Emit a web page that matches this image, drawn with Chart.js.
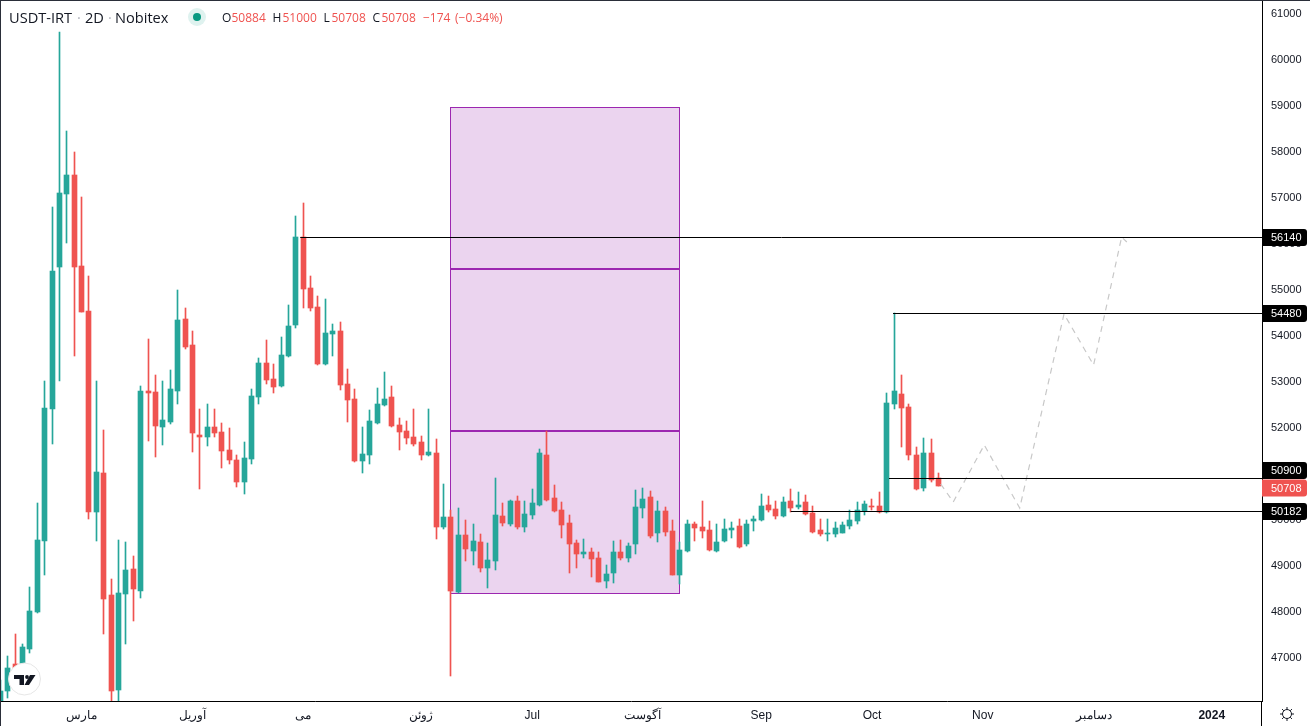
<!DOCTYPE html>
<html>
<head>
<meta charset="utf-8">
<style>html,body{margin:0;padding:0;background:#fff;overflow:hidden}#wrap{width:1310px;height:726px;position:relative}</style>
<script src="https://cdn.jsdelivr.net/npm/chart.js@4"></script>
</head>
<body>
<div id="wrap"><canvas id="c" width="1310" height="726"></canvas></div>
<script>
const opens=[46000,46261,46848,46826,47174,47979,49522,52391,55479,57066,
57479,55500,54522,50152,51000,48348,46283,48370,48913,48435,
52783,52761,52000,52109,52783,54348,53783,51826,51783,52000,
51891,51500,51283,50804,51304,52652,53391,53044,52891,53544,
54217,56130,55022,54609,53370,54022,54087,52935,52609,51261,
51391,52087,52478,52652,52044,51913,51783,51674,51391,51435,
49826,50044,48413,49652,49304,49500,48935,49087,50065,49891,
50391,49826,50087,50304,51391,50457,50196,49913,49478,49239,
49283,49152,48652,48826,49283,49152,49457,50239,50478,49696,
50174,49739,48783,49304,49891,49826,49761,49304,49522,49761,
49848,49457,49957,49978,50304,50217,50065,50391,50261,50370,
50130,49761,49674,49674,49696,49848,49957,50174,50283,50283,
50152,52500,52718,52435,51391,50674,51435,50884];
const highs=[46500,47022,47500,47283,48522,50348,53000,56783,60587,58435,
57979,57000,55283,53000,51935,48696,49544,49500,49196,52891,
53913,53130,53000,53239,54978,54587,54087,52391,52500,52391,
52087,51978,51391,51674,52826,53500,53891,53370,53957,54652,
56587,56870,55283,54848,54783,54239,54283,53261,52826,52000,
52370,52848,53196,52891,52196,52130,52391,51804,52391,51739,
50761,50196,50239,49978,49891,49674,49478,50891,50348,50413,
50500,50391,50652,51522,51913,50739,50370,50087,49544,49565,
49370,49283,49000,49522,49544,49478,50630,50674,50609,50391,
50261,49978,49500,49978,49935,50391,49957,49891,50000,49935,
50000,49978,50065,50544,50500,50391,50478,50652,50587,50522,
50283,50000,50000,49935,49935,50196,50370,50391,50435,50587,
52739,54480,53130,52500,51565,51761,51739,51000];
const lows=[45950,46109,46500,46761,47087,47960,48783,51631,53000,56000,
53544,54490,50000,49522,47500,45950,45950,47283,47783,48283,
51696,51348,51609,52065,52500,53696,51457,50652,51587,51783,
51109,51196,50696,50544,51196,52500,52935,52739,52870,53520,
54152,54587,54522,53350,53350,53544,52804,52109,51240,51000,
51196,52065,52460,52000,51500,51631,51587,51283,51380,49565,
49783,46587,48400,49087,49000,48848,48500,48891,49848,49848,
49783,49717,50000,50290,50400,50152,49587,48826,48935,49152,
48739,48630,48500,48609,49109,49065,49239,50022,49587,49500,
49630,48780,48587,49290,49522,49587,49310,49283,49500,49587,
49380,49413,49739,49960,50152,50000,50050,50152,50217,50087,
49696,49630,49522,49609,49685,49783,49891,50087,50196,50130,
50130,52391,51565,51283,50640,50609,50804,50708];
const closes=[46261,46761,46652,47218,48000,49544,52413,55391,57087,57479,
55479,54500,50152,51022,48261,46261,48391,48891,48479,52783,
52740,52022,52152,52826,54326,53739,51870,51783,52000,51870,
51478,51283,50804,51326,52674,53391,53022,52870,53565,54196,
56140,55000,54587,53370,54044,54087,52913,52587,51261,51413,
52130,52500,52609,52022,51891,51761,51631,51391,51457,49826,
50044,48435,49652,49348,49522,48935,49109,50087,49913,50391,
49826,50109,50348,51435,50413,50174,49870,49457,49239,49283,
49130,48640,48804,49283,49152,49413,50261,50435,49630,50174,
49717,48783,49326,49891,49804,49739,49326,49500,49783,49804,
49391,49891,50000,50283,50196,50065,50370,50239,50304,50109,
49717,49674,49696,49804,49870,49978,50196,50326,50261,50152,
52522,52783,52413,51391,50652,51435,50848,50708];

const priceTicks=[47000,48000,49000,50000,51000,52000,53000,54000,55000,56000,57000,58000,59000,60000,61000];
const monthTicks=[11,26,41,57,72,87,103,118,133,148,164];
const monthLabels=['مارس','آوریل','می','ژوئن','Jul','آگوست','Sep','Oct','Nov','دسامبر','2024'];

const levelValues=[56140,54480,50900,50182];
const levelStarts=[40.6,120.85,120.3,107];
const levelTagY=[0,0,-8,0];
const lastPrice=50708;
const changeText='−174';
const percentText='(−0.34%)';

const boxIndex=[61,92];
const boxPrices=[58946,48380];
const boxLines=[55435,51913];

const forecastX=[127.3,129,133.2,138,144,148,151.8,152.5];
const forecastY=[50761,50370,51609,50239,54457,53348,56130,56022];

const UP='#26a69a',DOWN='#ef5350',BLACK='#000000',INK='#131722',PURPLE='#9c27b0';
const AXIS_FONT='"Liberation Sans", Arial, sans-serif';
const HEAD_FONT='"Open Sans", sans-serif';
const idx=opens.map((_,i)=>i);
const cols=idx.map(i=>closes[i]>=opens[i]?UP:DOWN);

const wickData=idx.map(i=>({x:i,y:[lows[i],highs[i]]}));
const bodyData=idx.map(i=>({x:i,y:[Math.min(opens[i],closes[i]),Math.max(opens[i],closes[i])]}));

const levelSets=levelValues.map((v,k)=>({
  type:'line',label:'level '+v,order:1,
  data:[{x:levelStarts[k],y:v},{x:171,y:v}],
  borderColor:BLACK,borderWidth:1,pointRadius:0,fill:false,tension:0
}));

const snap={
  id:'snap',
  afterDatasetsUpdate(chart){
    chart.data.datasets.forEach((ds,di)=>{
      const meta=chart.getDatasetMeta(di);
      if(ds.type==='bar'){
        meta.data.forEach(el=>{
          el.x=Math.floor(el.x)+0.5;
          let t=Math.round(el.y),b=Math.round(el.base);
          if(b-t<1)b=t+1;
          el.y=t;el.base=b;
          el.height=b-t;
        });
      }else if(ds.label&&ds.label.startsWith('level')){
        meta.data.forEach(el=>{el.y=Math.round(el.y)+0.5;});
      }
    });
  }
};

const box={
  id:'box',
  beforeDatasetsDraw(chart){
    const {ctx,scales:{x,y}}=chart;
    const l=Math.floor(x.getPixelForValue(boxIndex[0]))+0.5;
    const r=Math.floor(x.getPixelForValue(boxIndex[1]))+0.5;
    const t=Math.floor(y.getPixelForValue(boxPrices[0]))+0.5;
    const b=Math.floor(y.getPixelForValue(boxPrices[1]))+0.5;
    ctx.save();
    ctx.fillStyle='rgba(156,39,176,0.2)';
    ctx.fillRect(l,t,r-l,b-t);
    ctx.strokeStyle=PURPLE;ctx.lineWidth=1;
    ctx.strokeRect(l,t,r-l,b-t);
    ctx.lineWidth=2;
    boxLines.forEach(v=>{
      const p=Math.round(y.getPixelForValue(v));
      ctx.beginPath();ctx.moveTo(l,p);ctx.lineTo(r,p);ctx.stroke();
    });
    ctx.restore();
  }
};

function tag(ctx,text,cy,bg){
  ctx.fillStyle=bg;
  ctx.beginPath();
  ctx.roundRect(1262,cy-8.5,45,17,[0,3,3,0]);
  ctx.fill();
  ctx.fillStyle='#ffffff';
  ctx.textAlign='left';ctx.textBaseline='middle';
  ctx.font='11px '+AXIS_FONT;
  ctx.fillText(text,1271,cy+0.5);
}

const overlay={
  id:'overlay',
  afterDraw(chart){
    const {ctx,scales:{y}}=chart;
    ctx.save();
    ctx.fillStyle='#2a2e39';
    ctx.fillRect(0,0,1310,1);
    ctx.fillRect(0,0,1,726);
    ctx.fillStyle=BLACK;
    ctx.fillRect(1261,701,1,25);
    levelValues.forEach((v,k)=>tag(ctx,String(v),Math.round(y.getPixelForValue(v))+0.5+levelTagY[k],BLACK));
    tag(ctx,String(lastPrice),488,DOWN);
    ctx.textBaseline='middle';ctx.textAlign='left';
    ctx.font='14.6px '+HEAD_FONT;
    [['USDT-IRT',9,INK],['·',77,'#b2b5be'],['2D',85,INK],['·',108,'#b2b5be'],['Nobitex',115,INK]].forEach(p=>{
      ctx.fillStyle=p[2];ctx.fillText(p[0],p[1],18.5);
    });
    ctx.beginPath();ctx.arc(197,17,9,0,Math.PI*2);ctx.fillStyle='rgba(8,153,129,0.13)';ctx.fill();
    ctx.beginPath();ctx.arc(197,17,4,0,Math.PI*2);ctx.fillStyle='#089981';ctx.fill();
    ctx.font='12px '+HEAD_FONT;
    const last=opens.length-1;
    [['O',222,INK],[String(opens[last]),231.5,DOWN],['H',272.5,INK],[String(highs[last]),282.5,DOWN],
     ['L',323.5,INK],[String(lows[last]),331.5,DOWN],['C',372.5,INK],[String(closes[last]),381.5,DOWN],
     [changeText,423,DOWN],[percentText,455,DOWN]].forEach(p=>{
      ctx.fillStyle=p[2];ctx.fillText(p[0],p[1],19);
    });
    ctx.beginPath();ctx.arc(24.5,679,16,0,Math.PI*2);ctx.fillStyle='#ffffff';ctx.fill();
    ctx.strokeStyle='#e6e6e6';ctx.lineWidth=1;ctx.stroke();
    ctx.fillStyle=INK;
    ctx.beginPath();ctx.moveTo(14,675);ctx.lineTo(24,675);ctx.lineTo(24,685);ctx.lineTo(19.5,685);ctx.lineTo(19.5,679);ctx.lineTo(14,679);ctx.closePath();ctx.fill();
    ctx.beginPath();ctx.arc(27,677,1.9,0,Math.PI*2);ctx.fill();
    ctx.beginPath();ctx.moveTo(30,675);ctx.lineTo(35.5,675);ctx.lineTo(29,685);ctx.lineTo(24.5,685);ctx.closePath();ctx.fill();
    ctx.strokeStyle=INK;ctx.lineWidth=1;
    ctx.beginPath();ctx.arc(1287,714,4.5,0,Math.PI*2);ctx.stroke();
    for(let a=0;a<8;a++){
      const c=Math.cos(a*Math.PI/4),s=Math.sin(a*Math.PI/4);
      ctx.beginPath();ctx.moveTo(1287+c*4.5,714+s*4.5);ctx.lineTo(1287+c*7,714+s*7);ctx.stroke();
    }
    ctx.restore();
  }
};

new Chart(document.getElementById('c'),{
  data:{datasets:[
    {type:'bar',label:'wick',order:3,data:wickData,backgroundColor:cols,barThickness:1,grouped:false,borderWidth:0},
    {type:'bar',label:'body',order:2,data:bodyData,backgroundColor:cols,barThickness:5,grouped:false,borderWidth:0},
    ...levelSets,
    {type:'line',label:'forecast',order:1,data:forecastX.map((x,i)=>({x,y:forecastY[i]})),
      borderColor:'#c8c8c8',borderWidth:1.2,borderDash:[6,5],pointRadius:0,fill:false,tension:0}
  ]},
  options:{
    responsive:false,animation:false,
    layout:{padding:0},
    plugins:{legend:{display:false},tooltip:{enabled:false},title:{display:false}},
    scales:{
      x:{type:'linear',min:-0.046,max:170.8,offset:false,
        grid:{display:false,drawTicks:false},
        border:{display:true,color:BLACK,width:1},
        afterBuildTicks(s){s.ticks=monthTicks.map(v=>({value:v}));},
        afterFit(s){s.height=25;s.paddingLeft=0;s.paddingRight=0;},
        ticks:{autoSkip:false,maxRotation:0,minRotation:0,padding:7,color:INK,
          callback:(v)=>monthLabels[monthTicks.indexOf(v)],
          font:(c)=>({family:AXIS_FONT,size:12,weight:(c.tick&&c.tick.value===164)?'bold':'normal'})}
      },
      y:{type:'linear',position:'right',min:46043.5,max:61283,
        grid:{display:false,drawTicks:false},
        border:{display:true,color:BLACK,width:1},
        afterBuildTicks(s){s.ticks=priceTicks.map(v=>({value:v}));},
        afterFit(s){s.width=48;s.paddingTop=0;s.paddingBottom=0;},
        ticks:{padding:9,labelOffset:1,color:INK,align:'center',crossAlign:'near',
          callback:(v)=>String(v),font:{family:AXIS_FONT,size:11}}
      }
    }
  },
  plugins:[snap,box,overlay]
});
</script>
</body>
</html>
